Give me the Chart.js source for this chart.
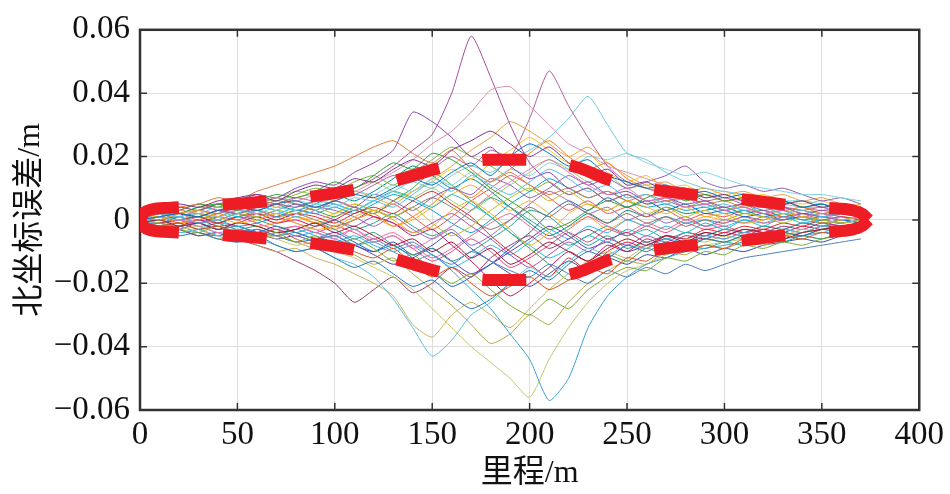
<!DOCTYPE html>
<html><head><meta charset="utf-8">
<script src="https://cdn.jsdelivr.net/npm/chart.js@4.4.0/dist/chart.umd.min.js"></script>
<style>html,body{margin:0;padding:0;background:#fff}canvas{display:block}</style>
</head><body>
<canvas id="c" width="950" height="494"></canvas>
<script>
const mileage = [0,10,20,30,40,50,60,70,80,90,100,110,120,130,140,150,160,170,180,190,200,210,220,230,240,250,260,270,280,290,300,310,320,330,340,350,360,370];

const run01 = [0,0.001,0.002,0.001,0.003,0.004,0.003,0.005,0.006,0.004,0.006,0.008,0.007,0.010,0.013,0.011,0.015,0.018,0.014,0.020,0.024,0.021,0.017,0.019,0.014,0.012,0.010,0.011,0.008,0.009,0.007,0.008,0.005,0.006,0.004,0.005,0.003,0.002];
const run02 = [-0.001,-0.002,-0.001,-0.003,-0.002,-0.004,-0.005,-0.003,-0.006,-0.008,-0.007,-0.010,-0.012,-0.009,-0.014,-0.018,-0.015,-0.020,-0.024,-0.021,-0.018,-0.022,-0.019,-0.015,-0.017,-0.012,-0.013,-0.009,-0.010,-0.008,-0.009,-0.006,-0.007,-0.005,-0.006,-0.004,-0.005,-0.003];
const run03 = [0.001,0,0.002,0.003,0.001,-0.001,0,0.002,-0.001,-0.003,-0.002,0.001,0.003,0,-0.004,-0.002,0.003,0.006,0.002,-0.003,-0.008,-0.004,0.002,0.005,0.003,0.006,0.004,0.002,0.004,0.001,0.002,-0.001,0,0.002,0.001,-0.001,0,0.001];
const run04 = [0.002,0.003,0.005,0.004,0.006,0.007,0.008,0.006,0.009,0.011,0.010,0.013,0.012,0.016,0.019,0.017,0.022,0.025,0.028,0.024,0.020,0.023,0.018,0.014,0.016,0.011,0.012,0.009,0.010,0.007,0.008,0.006,0.007,0.005,0.006,0.004,0.005,0.004];
const run05 = [-0.002,-0.001,-0.003,-0.004,-0.002,-0.005,-0.006,-0.004,-0.007,-0.005,-0.008,-0.006,-0.009,-0.013,-0.011,-0.016,-0.020,-0.017,-0.022,-0.027,-0.030,-0.025,-0.028,-0.022,-0.018,-0.015,-0.016,-0.012,-0.013,-0.010,-0.011,-0.008,-0.009,-0.007,-0.008,-0.006,-0.005,-0.004];
const run06 = [0,0.002,0.001,-0.001,0,0.002,0.004,0.003,0.001,0.003,0.005,0.003,0.006,0.004,0.008,0.012,0.009,0.014,0.011,0.008,0.012,0.016,0.013,0.009,0.011,0.007,0.008,0.005,0.007,0.004,0.005,0.003,0.004,0.002,0.003,0.001,0.002,0.001];
const run07 = [-0.001,0,-0.002,-0.001,-0.003,-0.001,-0.002,-0.004,-0.003,-0.001,-0.004,-0.002,-0.005,-0.008,-0.006,-0.010,-0.007,-0.012,-0.009,-0.014,-0.011,-0.007,-0.010,-0.013,-0.009,-0.006,-0.008,-0.005,-0.007,-0.004,-0.005,-0.003,-0.004,-0.006,-0.004,-0.003,-0.002,-0.001];
const run08 = [0.001,0.003,0.002,0.004,0.005,0.003,0.006,0.008,0.007,0.009,0.012,0.010,0.014,0.018,0.016,0.021,0.019,0.015,0.010,0.006,0.002,-0.003,-0.001,0.003,0.006,0.004,0.007,0.009,0.006,0.008,0.006,0.007,0.005,0.006,0.004,0.005,0.003,0.002];
const run09 = [0,0.001,0.003,0.002,0.004,0.003,0.005,0.007,0.006,0.008,0.010,0.009,0.012,0.015,0.019,0.024,0.028,0.034,0.041,0.042,0.036,0.030,0.024,0.021,0.017,0.015,0.013,0.011,0.010,0.008,0.007,0.006,0.006,0.005,0.004,0.004,0.003,0.002];
const run10 = [-0.002,-0.003,-0.005,-0.004,-0.006,-0.007,-0.005,-0.008,-0.010,-0.009,-0.012,-0.015,-0.013,-0.017,-0.021,-0.019,-0.024,-0.028,-0.025,-0.020,-0.016,-0.019,-0.014,-0.010,-0.012,-0.008,-0.010,-0.007,-0.009,-0.006,-0.007,-0.005,-0.006,-0.004,-0.005,-0.003,-0.004,-0.003];
const run11 = [0.002,0.001,0.003,0.002,0,0.002,0.001,0.003,0.002,0.004,0.002,0.005,0.003,0.001,0.004,-0.001,-0.005,-0.002,0.003,0.007,0.010,0.006,0.009,0.005,0.003,0.006,0.002,0.004,0.001,0.003,0,0.002,0.001,-0.001,0.001,0,-0.001,0];
const run12 = [-0.001,-0.002,0,-0.002,-0.004,-0.003,-0.005,-0.004,-0.002,-0.004,-0.006,-0.003,-0.007,-0.005,-0.009,-0.006,-0.002,0.003,0.008,0.012,0.016,0.019,0.015,0.011,0.008,0.010,0.006,0.007,0.004,0.005,0.003,0.004,0.002,0.003,0.001,0.002,0,0.001];
const run13 = [0.001,0.002,0.004,0.003,0.005,0.006,0.008,0.007,0.010,0.012,0.011,0.015,0.018,0.022,0.034,0.031,0.026,0.020,0.023,0.017,0.013,0.015,0.010,0.012,0.008,0.009,0.006,0.007,0.005,0.006,0.004,0.005,0.003,0.004,0.002,0.003,0.002,0.001];
const run14 = [-0.001,-0.002,-0.004,-0.003,-0.005,-0.007,-0.006,-0.008,-0.010,-0.009,-0.012,-0.014,-0.018,-0.025,-0.034,-0.043,-0.038,-0.030,-0.026,-0.020,-0.015,-0.018,-0.013,-0.009,-0.011,-0.008,-0.009,-0.006,-0.007,-0.005,-0.006,-0.004,-0.005,-0.003,-0.004,-0.002,-0.003,-0.002];
const run15 = [0,0.001,0.002,0.001,0.003,0.002,0.004,0.005,0.004,0.006,0.008,0.010,0.013,0.017,0.022,0.027,0.040,0.058,0.045,0.030,0.018,0.012,0.008,0.010,0.006,0.008,0.005,0.006,0.004,0.005,0.003,0.004,0.002,0.003,0.001,0.002,0.001,0];
const run16 = [0.001,0,0.002,0.003,0.002,0.004,0.003,0.005,0.007,0.006,0.009,0.008,0.011,0.014,0.012,0.016,0.020,0.017,0.022,0.020,0.032,0.047,0.036,0.026,0.017,0.012,0.010,0.008,0.009,0.006,0.007,0.005,0.006,0.004,0.003,0.004,0.002,0.001];
const run17 = [0,0.001,0,0.002,0.001,0.003,0.002,0.004,0.003,0.005,0.004,0.007,0.006,0.009,0.012,0.010,0.014,0.017,0.015,0.019,0.022,0.026,0.032,0.039,0.030,0.021,0.019,0.015,0.012,0.010,0.009,0.008,0.007,0.006,0.006,0.005,0.004,0.003];
const run18 = [-0.001,0,-0.002,-0.001,-0.003,-0.002,-0.004,-0.003,-0.005,-0.004,-0.006,-0.008,-0.007,-0.010,-0.013,-0.011,-0.016,-0.022,-0.028,-0.036,-0.044,-0.057,-0.050,-0.034,-0.024,-0.018,-0.014,-0.012,-0.010,-0.009,-0.008,-0.007,-0.006,-0.006,-0.005,-0.004,-0.004,-0.003];
const run19 = [0,-0.001,-0.003,-0.002,-0.004,-0.005,-0.004,-0.006,-0.008,-0.007,-0.010,-0.012,-0.015,-0.018,-0.022,-0.028,-0.034,-0.040,-0.045,-0.050,-0.056,-0.044,-0.034,-0.026,-0.020,-0.016,-0.014,-0.011,-0.009,-0.008,-0.007,-0.006,-0.005,-0.005,-0.004,-0.003,-0.003,-0.002];
const run20 = [-0.001,-0.003,-0.002,-0.004,-0.006,-0.005,-0.008,-0.010,-0.009,-0.012,-0.014,-0.017,-0.020,-0.024,-0.033,-0.037,-0.030,-0.026,-0.030,-0.034,-0.028,-0.022,-0.017,-0.013,-0.010,-0.012,-0.008,-0.009,-0.006,-0.007,-0.005,-0.006,-0.004,-0.005,-0.003,-0.004,-0.002,-0.002];
const run21 = [-0.002,-0.001,-0.003,-0.005,-0.004,-0.006,-0.008,-0.010,-0.013,-0.016,-0.020,-0.026,-0.022,-0.018,-0.023,-0.020,-0.015,-0.018,-0.012,-0.008,-0.005,-0.009,-0.006,-0.003,-0.006,-0.004,-0.007,-0.005,-0.006,-0.004,-0.005,-0.003,-0.004,-0.002,-0.003,-0.001,-0.002,-0.001];
const run22 = [0.001,0.002,0.004,0.005,0.007,0.006,0.009,0.011,0.013,0.015,0.017,0.020,0.023,0.025,0.021,0.018,0.022,0.016,0.012,0.015,0.011,0.008,0.010,0.007,0.009,0.006,0.008,0.006,0.007,0.005,0.006,0.004,0.005,0.003,0.004,0.002,0.003,0.002];
const run23 = [0,0.002,0.001,0.003,0.002,0.004,0.005,0.003,0.006,0.005,0.007,0.009,0.008,0.011,0.009,0.013,0.011,0.015,0.012,0.016,0.014,0.018,0.016,0.020,0.019,0.021,0.018,0.016,0.014,0.015,0.013,0.011,0.010,0.009,0.008,0.008,0.007,0.006];
const run24 = [0.001,0,0.002,0.001,0.003,0.002,0.001,0.003,0.005,0.004,0.006,0.004,0.008,0.006,0.003,0.007,0.010,0.008,0.013,0.011,0.007,0.010,0.014,0.011,0.013,0.010,0.012,0.014,0.017,0.012,0.010,0.011,0.009,0.010,0.008,0.006,0.007,0.005];
const run25 = [-0.001,-0.002,-0.001,-0.003,-0.002,-0.004,-0.003,-0.005,-0.004,-0.006,-0.005,-0.008,-0.006,-0.009,-0.007,-0.011,-0.014,-0.010,-0.013,-0.016,-0.018,-0.014,-0.017,-0.020,-0.016,-0.018,-0.015,-0.017,-0.014,-0.016,-0.014,-0.012,-0.011,-0.010,-0.009,-0.008,-0.007,-0.006];
const run26 = [0.002,0.003,0.002,0.004,0.003,0.001,0.003,0.002,0.004,0.006,0.005,0.003,0.006,0.009,0.007,0.004,0.008,0.005,0.001,-0.004,-0.008,-0.012,-0.009,-0.005,-0.007,-0.003,-0.005,-0.002,-0.004,-0.001,-0.003,0,-0.002,0.001,-0.001,0,-0.001,0];
const run27 = [-0.002,-0.001,0,0.001,-0.001,0.001,0.002,0,0.002,0.001,-0.001,0.002,0.004,0.002,0.006,0.009,0.005,0.001,-0.005,-0.010,-0.014,-0.018,-0.012,-0.016,-0.010,-0.007,-0.009,-0.005,-0.006,-0.003,-0.004,-0.002,-0.003,-0.001,-0.002,0,-0.001,0];
const run28 = [0,0.001,-0.001,0,0.002,0,-0.002,-0.001,0.001,-0.001,-0.003,0,0.002,-0.002,0.001,0.005,0.010,0.007,0.012,0.016,0.021,0.025,0.020,0.016,0.018,0.013,0.010,0.009,0.007,0.008,0.006,0.007,0.005,0.006,0.004,0.003,0.004,0.003];
const run29 = [0.001,0.002,0,0.001,-0.001,-0.003,-0.002,-0.004,-0.003,-0.001,-0.003,-0.006,-0.004,-0.008,-0.011,-0.009,-0.013,-0.010,-0.006,-0.002,0.003,0.001,-0.004,-0.008,-0.005,-0.009,-0.007,-0.010,-0.008,-0.009,-0.007,-0.008,-0.006,-0.007,-0.005,-0.006,-0.004,-0.003];
const run30 = [-0.001,0,0.001,-0.001,0.001,0.003,0.002,0,0.002,0.004,0.003,0.001,-0.002,0.001,-0.003,-0.006,-0.003,-0.008,-0.005,0,0.005,0.009,0.006,0.002,0.004,0,0.002,-0.001,0.001,-0.002,0,-0.001,0.001,0,0.002,0.001,0,0.001];
const run31 = [0,-0.002,-0.001,-0.003,-0.005,-0.004,-0.006,-0.005,-0.007,-0.009,-0.008,-0.011,-0.014,-0.012,-0.017,-0.022,-0.027,-0.033,-0.039,-0.036,-0.030,-0.033,-0.026,-0.020,-0.016,-0.013,-0.014,-0.010,-0.011,-0.008,-0.009,-0.007,-0.008,-0.006,-0.005,-0.006,-0.004,-0.003];
const run32 = [0.001,0.003,0.004,0.003,0.005,0.004,0.006,0.004,0.007,0.008,0.006,0.009,0.007,0.005,0.009,0.013,0.017,0.022,0.026,0.031,0.028,0.024,0.020,0.023,0.018,0.014,0.011,0.012,0.009,0.010,0.008,0.009,0.007,0.008,0.006,0.007,0.005,0.004];
const run33 = [-0.002,-0.004,-0.003,-0.005,-0.004,-0.006,-0.003,-0.005,-0.007,-0.006,-0.004,-0.007,-0.010,-0.008,-0.012,-0.016,-0.021,-0.018,-0.014,-0.009,-0.004,0.002,0.006,0.003,0.007,0.004,0.006,0.003,0.005,0.002,0.003,0.001,0.002,0,0.001,-0.001,0,-0.001];
const run34 = [0,0.001,0.003,0.005,0.004,0.006,0.005,0.007,0.005,0.003,0.001,0.004,0.002,0.006,0.010,0.015,0.011,0.006,0.001,-0.004,-0.009,-0.014,-0.019,-0.015,-0.011,-0.013,-0.009,-0.011,-0.008,-0.006,-0.007,-0.005,-0.006,-0.004,-0.005,-0.003,-0.002,-0.002];
const run35 = [-0.001,-0.003,-0.002,0,-0.002,-0.001,0.001,-0.001,0,-0.002,0,0.003,0.001,-0.001,-0.005,-0.003,-0.008,-0.013,-0.019,-0.024,-0.020,-0.015,-0.010,-0.013,-0.008,-0.010,-0.006,-0.008,-0.005,-0.006,-0.004,-0.005,-0.003,-0.004,-0.002,-0.003,-0.002,-0.001];
const run36 = [0,-0.001,0.001,0.002,0,-0.002,-0.001,0.001,0.003,0.002,0.004,0.002,0.005,0.008,0.006,0.003,-0.001,-0.004,0,0.005,0.009,0.013,0.010,0.007,0.009,0.006,0.004,0.005,0.003,0.004,0.002,0.003,0.001,0.002,0,0.001,0,-0.001];
const run37 = [0.001,0.003,0.002,0,0.002,0.004,0.003,0.001,-0.001,-0.003,-0.005,-0.003,-0.006,-0.004,-0.008,-0.012,-0.009,-0.005,-0.001,0.002,-0.002,-0.006,-0.003,0.001,-0.002,-0.004,-0.001,-0.003,0,-0.002,-0.001,0.001,-0.001,0,0.001,-0.001,0,0.001];
const run38 = [-0.001,0,0.002,0.001,0.003,0.005,0.007,0.006,0.008,0.010,0.009,0.012,0.014,0.011,0.015,0.019,0.023,0.020,0.017,0.013,0.009,0.012,0.008,0.010,0.006,0.008,0.005,0.007,0.004,0.006,0.003,0.005,0.002,0.004,0.003,0.002,0.003,0.002];
const run39 = [0,-0.002,-0.003,-0.001,-0.003,-0.002,-0.004,-0.006,-0.005,-0.007,-0.009,-0.008,-0.011,-0.014,-0.012,-0.009,-0.013,-0.017,-0.014,-0.010,-0.006,-0.002,-0.005,-0.009,-0.007,-0.010,-0.008,-0.006,-0.008,-0.005,-0.006,-0.004,-0.005,-0.003,-0.004,-0.002,-0.003,-0.002];
const run40 = [0.002,0.001,0,0.002,0.001,0.003,0.001,-0.001,0.001,0,0.002,0.005,0.003,0.006,0.009,0.012,0.016,0.013,0.018,0.022,0.026,0.022,0.018,0.021,0.015,0.012,0.014,0.010,0.011,0.008,0.009,0.007,0.008,0.006,0.005,0.006,0.004,0.005];
const run41 = [-0.001,0.001,0,-0.002,-0.001,0.001,0,-0.002,-0.004,-0.002,0,-0.003,-0.001,0.002,-0.002,-0.005,-0.002,0.003,0.007,0.004,0,-0.004,-0.008,-0.005,-0.002,-0.005,-0.003,-0.006,-0.004,-0.005,-0.003,-0.004,-0.002,-0.003,-0.001,-0.002,0,-0.001];
const run42 = [0,0.002,0.003,0.005,0.003,0.002,0.004,0.006,0.005,0.003,0.006,0.004,0.002,0.005,0.001,-0.003,0.001,0.006,0.010,0.014,0.011,0.007,0.003,0.006,0.002,0.004,0.001,0.003,0,0.002,0.001,0.003,0.002,0.001,0.002,0,0.001,0];
const run43 = [-0.002,-0.003,-0.002,-0.004,-0.005,-0.003,-0.004,-0.002,-0.004,-0.006,-0.005,-0.008,-0.010,-0.007,-0.011,-0.008,-0.004,-0.009,-0.013,-0.017,-0.021,-0.017,-0.013,-0.016,-0.012,-0.014,-0.011,-0.012,-0.009,-0.011,-0.009,-0.010,-0.008,-0.007,-0.006,-0.007,-0.005,-0.004];
const run44 = [0.001,0,0.001,-0.001,0,0.002,0.003,0.001,0.002,0,-0.002,0,0.003,0.001,0.004,0.007,0.004,0,-0.003,0,0.004,0.001,0.005,0.002,-0.001,0.002,-0.001,0.001,-0.002,0,-0.001,0.001,0,0.002,0.001,0,0.001,0];
const run45 = [0,0.001,0,-0.001,0.001,0,0.002,0.001,0.003,0.002,0,-0.002,0.001,-0.001,-0.004,-0.001,0.002,-0.002,-0.006,-0.011,-0.015,-0.011,-0.007,-0.010,-0.006,-0.008,-0.005,-0.007,-0.004,-0.005,-0.003,-0.004,-0.002,-0.003,-0.001,-0.002,-0.001,0];
const run46 = [-0.001,-0.002,-0.004,-0.003,-0.001,-0.002,-0.004,-0.005,-0.003,-0.005,-0.007,-0.005,-0.008,-0.010,-0.008,-0.011,-0.015,-0.012,-0.008,-0.011,-0.007,-0.003,-0.006,-0.002,-0.004,0,-0.002,0.001,-0.001,0,-0.002,0,-0.001,0.001,0,-0.001,0,0.001];
const run47 = [0.002,0.004,0.003,0.005,0.004,0.006,0.005,0.007,0.009,0.008,0.007,0.010,0.012,0.009,0.007,0.010,0.006,0.003,0.007,0.011,0.015,0.019,0.016,0.012,0.014,0.010,0.011,0.008,0.009,0.007,0.008,0.006,0.007,0.005,0.006,0.004,0.005,0.004];
const run48 = [0,-0.001,-0.002,0,-0.001,0.001,-0.001,-0.003,-0.002,-0.004,-0.002,-0.004,-0.007,-0.005,-0.009,-0.013,-0.010,-0.006,-0.010,-0.015,-0.012,-0.008,-0.004,-0.007,-0.003,-0.005,-0.002,-0.004,-0.001,-0.003,-0.002,-0.004,-0.003,-0.005,-0.004,-0.003,-0.002,-0.002];
const run49 = [0.001,0.002,0.001,0.003,0.005,0.004,0.006,0.005,0.003,0.005,0.008,0.006,0.009,0.013,0.017,0.014,0.010,0.013,0.009,0.004,-0.001,-0.005,-0.002,0.002,-0.001,0.003,0.001,0.004,0.002,0.003,0.004,0.002,0.003,0.001,0.002,0.001,0.002,0.001];
const run50 = [-0.001,0,-0.001,0.001,0,0.002,0,0.002,0.001,-0.001,0.001,0.003,0.001,-0.002,0,0.004,0.008,0.011,0.007,0.003,0.006,0.002,-0.002,0.001,-0.003,0,-0.002,0.001,-0.001,0.001,0,0.002,0.001,0.003,0.002,0.001,0.002,0.001];

const runs = [run01,run02,run03,run04,run05,run06,run07,run08,run09,run10,run11,run12,run13,run14,run15,run16,run17,run18,run19,run20,run21,run22,run23,run24,run25,run26,run27,run28,run29,run30,run31,run32,run33,run34,run35,run36,run37,run38,run39,run40,run41,run42,run43,run44,run45,run46,run47,run48,run49,run50];

const envMileage = [0,2,6,15,30,50,70,90,110,130,150,165,180,195,210,225,240,255,270,285,300,315,330,345,358,366,371,374];
const envUpper = [0,0.0022,0.0033,0.0038,0.0043,0.0051,0.0062,0.0075,0.0095,0.0122,0.0158,0.0180,0.0190,0.0190,0.0184,0.0165,0.0128,0.0105,0.0090,0.0079,0.0071,0.0061,0.0049,0.0041,0.0036,0.0030,0.0018,0];
const envLower = [0,-0.0022,-0.0033,-0.0038,-0.0043,-0.0051,-0.0062,-0.0075,-0.0095,-0.0122,-0.0158,-0.0180,-0.0190,-0.0190,-0.0184,-0.0165,-0.0128,-0.0105,-0.0090,-0.0079,-0.0071,-0.0061,-0.0049,-0.0041,-0.0036,-0.0030,-0.0018,0];

const xTickLabels = ['0','50','100','150','200','250','300','350','400'];
const yTickLabels = ['\u22120.06','\u22120.04','\u22120.02','0','0.02','0.04','0.06'];
const xTitle = '里程/m';
const yTitle = '北坐标误差/m';

const runColors = ['#0072BD','#D95319','#EDB120','#7E2F8E','#77AC30','#4DBEEE','#A2142F','#2ca02c','#d98cb3','#1f77b4','#bcbd22','#e377c2','#8e44ad','#5bc0de','#a0509a','#b0609a','#6fc8dc','#3b9fd0','#c4c66a','#c8b25a','#9b3a6a','#e07b39','#7fd3e6','#8a5fb0','#4a7fc0','#17becf','#d62728','#ff7f0e','#2a9d8f','#9467bd','#b5a642','#e6a23c','#1565c0','#43a047','#c2185b','#00a2d3','#f06292','#7cb342','#5e35b1','#fbc02d','#26a69a','#ef5350','#3949ab','#8d6e63','#ab47bc','#29b6f6','#9ccc65','#ec407a','#00897b','#ffa726'];

const datasets = [];
[envUpper, envLower].forEach(ys => {
  datasets.push({
    data: envMileage.map((x,j)=>({x, y: ys[j]})),
    borderColor: '#ee1c25', borderWidth: 12, borderDash: [44,44], borderCapStyle: 'butt',
    pointRadius: 0, fill: false, cubicInterpolationMode: 'monotone', order: 0
  });
});
runs.forEach((r,i)=>{
  datasets.push({
    data: mileage.map((x,j)=>({x, y: r[j]})),
    borderColor: runColors[i % runColors.length], borderWidth: 1,
    pointRadius: 0, fill: false, tension: 0.2, order: 1
  });
});

const frame = {
  id: 'frame',
  beforeDatasetsDraw(chart){
    const {ctx, chartArea: a, scales: {x, y}} = chart;
    ctx.save();
    ctx.strokeStyle = '#333'; ctx.lineWidth = 2.5;
    ctx.strokeRect(a.left, a.top, a.right - a.left, a.bottom - a.top);
    ctx.lineWidth = 1.5;
    ctx.beginPath();
    x.ticks.forEach(t => { const p = x.getPixelForValue(t.value);
      ctx.moveTo(p, a.bottom); ctx.lineTo(p, a.bottom - 7);
      ctx.moveTo(p, a.top); ctx.lineTo(p, a.top + 7); });
    y.ticks.forEach(t => { const p = y.getPixelForValue(t.value);
      ctx.moveTo(a.left, p); ctx.lineTo(a.left + 7, p);
      ctx.moveTo(a.right, p); ctx.lineTo(a.right - 7, p); });
    ctx.stroke();
    ctx.restore();
  }
};

const serif = "'Liberation Serif','Times New Roman',serif";
const titleFont = "'Liberation Serif','Noto Sans CJK SC',serif";

new Chart(document.getElementById('c'), {
  type: 'line',
  data: { datasets },
  options: {
    responsive: false, animation: false, events: [],
    layout: { padding: { top: 20, right: 27, left: 0, bottom: 0 } },
    plugins: { legend: { display: false }, tooltip: { enabled: false } },
    scales: {
      x: {
        type: 'linear', min: 0, max: 400,
        afterFit(s){ s.height = 84; },
        border: { display: false },
        grid: { color: '#dedede', lineWidth: 1, drawTicks: false },
        ticks: { stepSize: 50, padding: 6, color: '#111', font: { family: serif, size: 33 },
          maxRotation: 0, callback: (v, i) => xTickLabels[i] },
        title: { display: true, text: xTitle, color: '#111', font: { family: titleFont, size: 32 }, padding: { top: 0, bottom: 1 } }
      },
      y: {
        type: 'linear', min: -0.06, max: 0.06,
        afterFit(s){ s.width = 140; },
        border: { display: false },
        grid: { color: '#dedede', lineWidth: 1, drawTicks: false },
        ticks: { stepSize: 0.02, padding: 10, color: '#111', font: { family: serif, size: 33 },
          callback: (v, i) => yTickLabels[i] },
        title: { display: true, text: yTitle, color: '#111', font: { family: titleFont, size: 32 }, padding: { top: 11, bottom: 0 } }
      }
    }
  },
  plugins: [frame]
});
</script>
</body></html>
